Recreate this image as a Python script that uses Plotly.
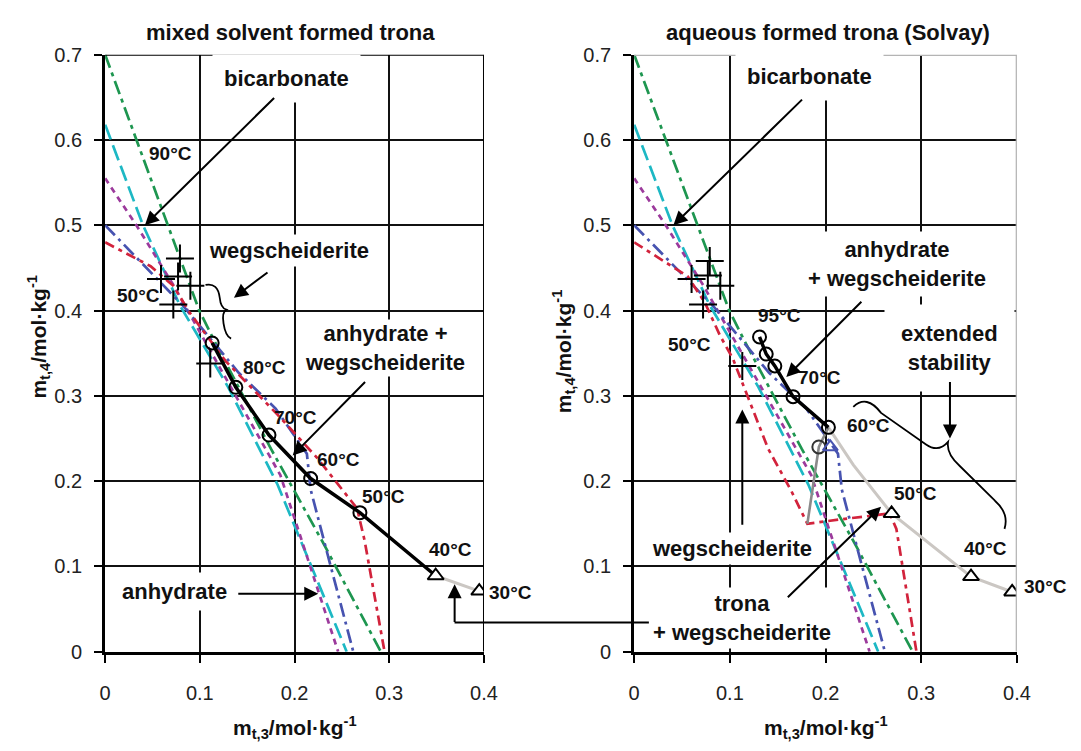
import plotly.graph_objects as go

# ---------------- data ----------------
# isotherms (dashed), shared by both panels
green_x = [0.0, 0.033, 0.066, 0.099, 0.115, 0.175, 0.230, 0.291]
green_y = [0.700, 0.600, 0.500, 0.401, 0.365, 0.238, 0.128, 0.0]
cyan_x = [0.0, 0.040, 0.079, 0.130, 0.182, 0.213, 0.255]
cyan_y = [0.618, 0.500, 0.406, 0.310, 0.196, 0.113, 0.0]
mag_x = [0.0, 0.033, 0.072, 0.134, 0.185, 0.246]
mag_y = [0.555, 0.500, 0.430, 0.307, 0.207, 0.0]
blue_x = [0.0, 0.030, 0.082, 0.141, 0.180, 0.213, 0.217, 0.237, 0.262]
blue_y = [0.500, 0.466, 0.406, 0.327, 0.285, 0.232, 0.190, 0.105, 0.0]
red_left_x = [0.0, 0.030, 0.048, 0.072, 0.089, 0.127, 0.182, 0.224, 0.266, 0.274, 0.295]
red_left_y = [0.480, 0.463, 0.452, 0.429, 0.398, 0.341, 0.278, 0.227, 0.168, 0.130, 0.0]
red_right_x = [0.0, 0.026, 0.056, 0.074, 0.090, 0.103, 0.120, 0.140, 0.164, 0.181, 0.215, 0.267, 0.274, 0.295]
red_right_y = [0.480, 0.461, 0.440, 0.409, 0.370, 0.344, 0.295, 0.238, 0.189, 0.150, 0.155, 0.162, 0.144, 0.0]

# left panel: anhydrate + wegscheiderite invariant points and trona points
left_circ_x = [0.113, 0.138, 0.173, 0.217, 0.269]
left_circ_y = [0.362, 0.310, 0.254, 0.203, 0.163]
left_tri_x = [0.349, 0.395]
left_tri_y = [0.089, 0.071]
left_cross_x = [0.079, 0.077, 0.059, 0.090, 0.072, 0.111]
left_cross_y = [0.461, 0.440, 0.437, 0.429, 0.407, 0.338]

# right panel
right_circ_x = [0.131, 0.138, 0.147, 0.166, 0.203]
right_circ_y = [0.369, 0.349, 0.335, 0.299, 0.263]
right_light_x = [0.203, 0.229, 0.269, 0.352, 0.395]
right_light_y = [0.263, 0.219, 0.162, 0.088, 0.070]
right_dark_x = [0.203, 0.193, 0.181]
right_dark_y = [0.263, 0.240, 0.150]
right_tri_x = [0.269, 0.352, 0.395]
right_tri_y = [0.162, 0.088, 0.070]
right_greycirc_x = [0.193]
right_greycirc_y = [0.240]
right_bluetri_x = [0.205]
right_bluetri_y = [0.240]
right_cross_x = [0.079, 0.077, 0.060, 0.090, 0.072, 0.113]
right_cross_y = [0.458, 0.441, 0.437, 0.429, 0.407, 0.335]

x_ticks = [0, 0.1, 0.2, 0.3, 0.4]
y_ticks = [0, 0.1, 0.2, 0.3, 0.4, 0.5, 0.6, 0.7]

# ---------------- styles ----------------
GREEN = "#1e9650"
CYAN = "#1db8c4"
MAG = "#9c3a9c"
BLUE = "#4753b0"
RED = "#d2233c"
LGREY = "#cbc7c3"
DGREY = "#8a8a8a"
FONT = "Liberation Sans, Arial, sans-serif"
W, H = 1081, 751

fig = go.Figure()


def dashed(x, y, color, dash, xa, ya):
    fig.add_trace(go.Scatter(x=x, y=y, mode="lines", xaxis=xa, yaxis=ya,
                             line=dict(color=color, width=2.7, dash=dash),
                             showlegend=False, hoverinfo="skip"))


for xa, ya, redx, redy in (("x", "y", red_left_x, red_left_y),
                           ("x2", "y2", red_right_x, red_right_y)):
    dashed(green_x, green_y, GREEN, "14px,5px,4px,5px", xa, ya)
    dashed(cyan_x, cyan_y, CYAN, "16px,6px", xa, ya)
    dashed(mag_x, mag_y, MAG, "6px,5px", xa, ya)
    dashed(blue_x, blue_y, BLUE, "14px,5px,3px,5px", xa, ya)
    dashed(redx, redy, RED, "10px,5px,4px,5px", xa, ya)

# left panel black line + markers
fig.add_trace(go.Scatter(x=left_circ_x + left_tri_x[:1], y=left_circ_y + left_tri_y[:1],
                         mode="lines", line=dict(color="black", width=3.5),
                         xaxis="x", yaxis="y", showlegend=False))
fig.add_trace(go.Scatter(x=left_tri_x, y=left_tri_y, mode="lines",
                         line=dict(color=LGREY, width=3), xaxis="x", yaxis="y", showlegend=False))
fig.add_trace(go.Scatter(x=left_circ_x, y=left_circ_y, mode="markers",
                         marker=dict(symbol="circle-open", size=13, color="black", line=dict(width=2)),
                         xaxis="x", yaxis="y", showlegend=False))
fig.add_trace(go.Scatter(x=left_tri_x, y=left_tri_y, mode="markers",
                         marker=dict(symbol="triangle-up", size=14, color="white",
                                     line=dict(color="black", width=2)),
                         xaxis="x", yaxis="y", showlegend=False))
fig.add_trace(go.Scatter(x=left_cross_x, y=left_cross_y, mode="markers",
                         marker=dict(symbol="cross-thin", size=20, color="black",
                                     line=dict(color="black", width=2)),
                         xaxis="x", yaxis="y", showlegend=False))

# right panel
fig.add_trace(go.Scatter(x=right_light_x, y=right_light_y, mode="lines",
                         line=dict(color=LGREY, width=3), xaxis="x2", yaxis="y2", showlegend=False))
fig.add_trace(go.Scatter(x=right_dark_x, y=right_dark_y, mode="lines",
                         line=dict(color=DGREY, width=2.6), xaxis="x2", yaxis="y2", showlegend=False))
fig.add_trace(go.Scatter(x=right_circ_x, y=right_circ_y, mode="lines",
                         line=dict(color="black", width=3.5), xaxis="x2", yaxis="y2", showlegend=False))
fig.add_trace(go.Scatter(x=right_circ_x, y=right_circ_y, mode="markers",
                         marker=dict(symbol="circle-open", size=13, color="black", line=dict(width=2)),
                         xaxis="x2", yaxis="y2", showlegend=False))
fig.add_trace(go.Scatter(x=right_greycirc_x, y=right_greycirc_y, mode="markers",
                         marker=dict(symbol="circle-open", size=13, color="#333333", line=dict(width=2)),
                         xaxis="x2", yaxis="y2", showlegend=False))
fig.add_trace(go.Scatter(x=right_bluetri_x, y=right_bluetri_y, mode="markers",
                         marker=dict(symbol="triangle-up-open", size=13, color=BLUE, line=dict(width=2)),
                         xaxis="x2", yaxis="y2", showlegend=False))
fig.add_trace(go.Scatter(x=right_tri_x, y=right_tri_y, mode="markers",
                         marker=dict(symbol="triangle-up", size=14, color="white",
                                     line=dict(color="black", width=2)),
                         xaxis="x2", yaxis="y2", showlegend=False))
fig.add_trace(go.Scatter(x=right_cross_x, y=right_cross_y, mode="markers",
                         marker=dict(symbol="cross-thin", size=20, color="black",
                                     line=dict(color="black", width=2)),
                         xaxis="x2", yaxis="y2", showlegend=False))

# ---------------- axes ----------------
XL = [101 / W, 487 / W]
XR = [640 / W, 1030 / W]
YD = [1 - 660 / H, 1 - 45 / H]

common = dict(ticks="outside", ticklen=8, tickwidth=2, tickcolor="black",
              showline=True, linewidth=3, linecolor="black",
              showgrid=True, gridcolor="#111111", gridwidth=1.6, zeroline=False,
              tickfont=dict(family=FONT, size=20, color="#222222"))
xcommon = dict(range=[0, 0.4], tickvals=x_ticks, ticktext=[f"{v:g}" for v in x_ticks],
               ticklabelstandoff=13, **common)
ycommon = dict(range=[0, 0.7], tickvals=y_ticks, ticktext=[f"{v:g}" for v in y_ticks],
               ticklabelstandoff=8, **common)

fig.update_layout(
    width=W, height=H, margin=dict(l=0, r=0, t=0, b=0), autosize=False,
    paper_bgcolor="white", plot_bgcolor="white", showlegend=False,
    xaxis=dict(domain=XL, anchor="y", **xcommon),
    yaxis=dict(domain=YD, anchor="x", **ycommon),
    xaxis2=dict(domain=XR, anchor="y2", **xcommon),
    yaxis2=dict(domain=YD, anchor="x2", **ycommon),
)

# borders, braces, connector
shapes = [
    dict(type="line", xref="x", yref="y", x0=0, x1=0.4, y0=0.7, y1=0.7, line=dict(color="black", width=2)),
    dict(type="line", xref="x", yref="y", x0=0.4, x1=0.4, y0=0, y1=0.7, line=dict(color="black", width=2)),
    dict(type="line", xref="x2", yref="y2", x0=0, x1=0.4, y0=0.7, y1=0.7, line=dict(color="#b4b4b4", width=2.5)),
    dict(type="line", xref="x2", yref="y2", x0=0.4, x1=0.4, y0=0, y1=0.7, line=dict(color="#b4b4b4", width=2.5)),
    dict(type="path", xref="x", yref="y", line=dict(color="black", width=1.8),
         path="M 0.106,0.430 Q 0.119,0.433 0.121,0.415 Q 0.122,0.403 0.128,0.401 "
              "Q 0.123,0.398 0.125,0.385 Q 0.127,0.370 0.133,0.367"),
    dict(type="path", xref="x2", yref="y2", line=dict(color="black", width=1.8),
         path="M 0.229,0.287 Q 0.243,0.302 0.258,0.280 L 0.305,0.243 Q 0.318,0.233 0.328,0.246 "
              "Q 0.326,0.232 0.340,0.218 L 0.377,0.177 Q 0.392,0.162 0.387,0.144"),
    dict(type="line", xref="paper", yref="paper", x0=457 / W, x1=655 / W,
         y0=1 - 630 / H, y1=1 - 630 / H, line=dict(color="black", width=2)),
]
fig.update_layout(shapes=shapes)

ann = []


def label(text, x, y, xa, ya, size=22, bg=None, pad=1, xanchor="center"):
    d = dict(text=f"<b>{text}</b>", x=x, y=y, xref=xa, yref=ya, showarrow=False,
             xanchor=xanchor, yanchor="middle",
             font=dict(family=FONT, size=size, color="#111111"), borderpad=pad)
    if bg:
        d["bgcolor"] = bg
    ann.append(d)


def arrow(x0, y0, x1, y1, xa, ya):
    ann.append(dict(text="", x=x1, y=y1, ax=x0, ay=y0, xref=xa, yref=ya, axref=xa, ayref=ya,
                    showarrow=True, arrowhead=2, arrowsize=1.4, arrowwidth=2,
                    arrowcolor="black", standoff=0, startstandoff=0))


def paper_text(text, px, py, size, angle=0, xanchor="center"):
    ann.append(dict(text=text, x=px / W, y=1 - py / H, xref="paper", yref="paper",
                    xanchor=xanchor, yanchor="middle", showarrow=False, textangle=angle,
                    font=dict(family=FONT, size=size, color="#111111")))


# left panel labels
label("bicarbonate", 0.192, 0.672, "x", "y", bg="white", pad=11)
label("wegscheiderite", 0.194, 0.470, "x", "y", bg="white", pad=3)
label("anhydrate +<br>wegscheiderite", 0.296, 0.356, "x", "y", bg="white", pad=1)
label("anhydrate", 0.073, 0.071, "x", "y", bg="white", pad=6)
for t, x, y in (("90°C", 0.069, 0.584), ("50°C", 0.035, 0.418), ("80°C", 0.168, 0.333),
                ("70°C", 0.201, 0.275), ("60°C", 0.246, 0.225), ("50°C", 0.294, 0.182),
                ("40°C", 0.365, 0.120)):
    label(t, x, y, "x", "y", size=19)
paper_text("<b>30°C</b>", 490, 599, 19, xanchor="left")

# right panel labels
label("bicarbonate", 0.183, 0.674, "x2", "y2", bg="white", pad=11)
label("anhydrate<br>+ wegscheiderite", 0.275, 0.455, "x2", "y2", bg="white", pad=5)
label("extended<br>stability", 0.330, 0.356, "x2", "y2", bg="white", pad=16)
label("wegscheiderite", 0.1026, 0.121, "x2", "y2", bg="white", pad=3)
label("trona<br>+ wegscheiderite", 0.113, 0.039, "x2", "y2", bg="white", pad=3)
for t, x, y in (("95°C", 0.152, 0.394), ("50°C", 0.058, 0.360), ("70°C", 0.194, 0.322),
                ("60°C", 0.245, 0.265), ("50°C", 0.294, 0.185), ("40°C", 0.367, 0.121)):
    label(t, x, y, "x2", "y2", size=19)
paper_text("<b>30°C</b>", 1035, 593, 19, xanchor="left")

# arrows
arrow(0.180, 0.651, 0.042, 0.500, "x", "y")
arrow(0.173, 0.446, 0.136, 0.415, "x", "y")
arrow(0.276, 0.318, 0.198, 0.230, "x", "y")
arrow(0.139, 0.068, 0.225, 0.068, "x", "y")
arrow(0.369, 0.033, 0.369, 0.079, "x", "y")
arrow(0.177, 0.649, 0.041, 0.500, "x2", "y2")
arrow(0.239, 0.412, 0.159, 0.322, "x2", "y2")
arrow(0.330, 0.318, 0.330, 0.250, "x2", "y2")
arrow(0.113, 0.147, 0.113, 0.284, "x2", "y2")
arrow(0.159, 0.062, 0.258, 0.170, "x2", "y2")

# titles and axis titles
paper_text("<b>mixed solvent formed trona</b>", 290, 22, 22)
paper_text("<b>aqueous formed trona (Solvay)</b>", 838, 22, 22)
paper_text("<b>m<sub>t,3</sub>/mol·kg<sup>-1</sup></b>", 294, 738, 21)
paper_text("<b>m<sub>t,3</sub>/mol·kg<sup>-1</sup></b>", 835, 738, 21)
paper_text("<b>m<sub>t,4</sub>/mol·kg<sup>-1</sup></b>", 33, 335, 21, -90)
paper_text("<b>m<sub>t,4</sub>/mol·kg<sup>-1</sup></b>", 568, 350, 21, -90)

fig.update_layout(annotations=ann)

fig.write_html(
    "out.html",
    config={"displayModeBar": False, "responsive": False},
    post_script=("document.body.style.margin='0';"
                 "document.body.style.overflow='hidden';"
                 "document.documentElement.style.overflow='hidden';"),
)
